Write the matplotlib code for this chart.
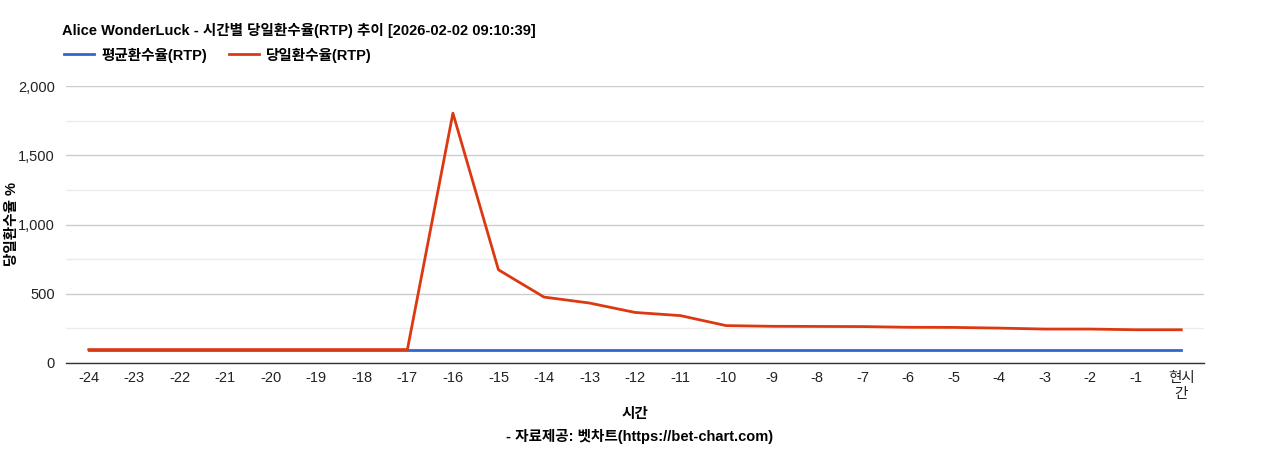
import matplotlib
matplotlib.use("Agg")
import matplotlib.pyplot as plt
from matplotlib.ticker import MultipleLocator, FuncFormatter

plt.rcParams['font.family'] = ['Liberation Sans', 'Noto Sans CJK KR', 'DejaVu Sans']

categories = ['-24', '-23', '-22', '-21', '-20', '-19', '-18', '-17', '-16', '-15',
              '-14', '-13', '-12', '-11', '-10', '-9', '-8', '-7', '-6', '-5',
              '-4', '-3', '-2', '-1', '현시\n간']
avg_rtp = [97] * 25
daily_rtp = [97, 97, 97, 97, 97, 97, 97, 97, 1804, 673,
             476, 433, 365, 342, 270, 265, 264, 263, 258, 257,
             252, 245, 245, 240, 240]
yticks = [0, 500, 1000, 1500, 2000]

title = 'Alice WonderLuck - 시간별 당일환수율(RTP) 추이 [2026-02-02 09:10:39]'
series_names = ['평균환수율(RTP)', '당일환수율(RTP)']
colors = ['#3366cc', '#dc3912']

fig = plt.figure(figsize=(12.68, 4.5), dpi=100)
ax = fig.add_axes([66/1268, 1-363/450, 1138/1268, 277/450])

x = list(range(len(categories)))
l1, = ax.plot(x, avg_rtp, color=colors[0], lw=2)
l2, = ax.plot(x, daily_rtp, color=colors[1], lw=2)

ax.set_xlim(-0.5, len(categories) - 0.5)
ax.set_ylim(0, 2000)
ax.set_xticks(x)
ax.set_xticklabels(categories, fontsize=10.5, color='#222222', linespacing=1.15)
ax.set_yticks(yticks)
ax.yaxis.set_major_formatter(FuncFormatter(lambda v, p: f'{int(v):,}'))
ax.yaxis.set_minor_locator(MultipleLocator(250))
ax.tick_params(axis='y', labelsize=10.5, colors='#222222', length=0, pad=8, which='both')
ax.tick_params(axis='x', length=0, pad=6)
ax.grid(True, axis='y', which='major', color='#cccccc', lw=1)
ax.grid(True, axis='y', which='minor', color='#ebebeb', lw=1)
ax.set_axisbelow(True)
for s in ['top', 'right', 'left']:
    ax.spines[s].set_visible(False)
ax.spines['bottom'].set_color('#333333')
ax.spines['bottom'].set_linewidth(1)

ax.set_ylabel('당일환수율 %', fontsize=10.5, fontweight='bold')
ax.yaxis.set_label_coords(-47/1138, 0.5)

fig.text(62/1268, 1-30/450, title, fontsize=10.5, fontweight='bold', va='center', ha='left')
fig.legend([l1, l2], series_names, loc='center left', bbox_to_anchor=(51/1268, 1-55/450),
           ncol=2, frameon=False, prop={'size': 10.5, 'weight': 'bold'},
           handlelength=2.05, handletextpad=0.5, columnspacing=1.5)

fig.text(635/1268, 1-414/450, '시간', fontsize=10.5, fontweight='bold', ha='center', va='center')
fig.text(640/1268, 1-437/450, '- 자료제공: 벳차트(https://bet-chart.com)', fontsize=10.5,
         fontweight='bold', ha='center', va='center')

fig.savefig('out.png', dpi=100)
